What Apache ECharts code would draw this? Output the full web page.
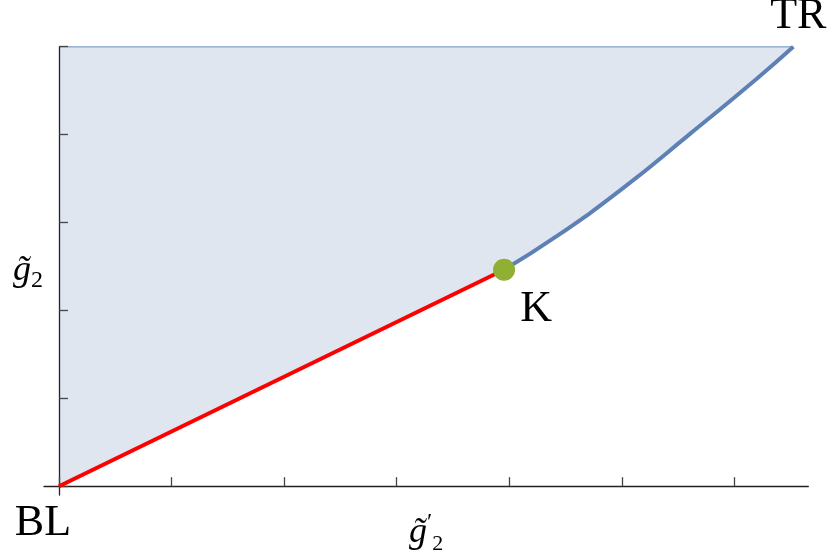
<!DOCTYPE html>
<html>
<head>
<meta charset="utf-8">
<script src="https://cdn.jsdelivr.net/npm/echarts@6/dist/echarts.min.js"></script>
<style>
  html, body { margin: 0; padding: 0; background: #fff; }
  #chart { width: 830px; height: 558px; }
</style>
</head>
<body>
<div id="chart"></div>
<script>
// red segment BL -> K
const redX = [0, 3.954];
const redY = [0, 2.463];
// blue curve K -> TR
const blueX = [3.954, 4.422, 5.014, 5.606, 6.199, 6.524];
const blueY = [2.463, 2.844, 3.394, 4.008, 4.636, 5.0];
const topY = 5;
const xTicks = [0, 1, 2, 3, 4, 5, 6];
const yTicks = [0, 1, 2, 3, 4, 5];
const pointNames = ['BL', 'K', 'TR'];

const zip = (xs, ys) => xs.map((x, i) => [x, ys[i]]);
const redData = zip(redX, redY);
const blueData = zip(blueX, blueY);
const last = blueData.length - 1;

const serif = '"Liberation Serif", "DejaVu Serif", serif';
const fill = '#dfe6f0';
const blue = '#5e81b5';

const chart = echarts.init(document.getElementById('chart'));

const labelBase = {
  show: true,
  fontFamily: serif,
  fontSize: 44,
  color: '#000',
  formatter: p => p.name
};

const points = [
  { name: pointNames[0], value: redData[0], symbolSize: 0,
    label: Object.assign({}, labelBase, { position: 'inside', offset: [-16, 37] }) },
  { name: pointNames[1], value: blueData[0], symbolSize: 22,
    label: Object.assign({}, labelBase, { position: 'inside', offset: [32, 40] }) },
  { name: pointNames[2], value: blueData[last], symbolSize: 0,
    label: Object.assign({}, labelBase, { position: 'inside', offset: [5, -30] }) }
];

const option = {
  animation: false,
  grid: { left: 44, right: 21.7, top: 46.7, bottom: 63, outerBoundsMode: 'none', containLabel: false },
  xAxis: {
    type: 'value',
    min: -0.133,
    max: 6.657,
    z: 3,
    name: '{i|g\u0303}{p|\u2032}{s|2}',
    nameLocation: 'middle',
    nameGap: 16,
    nameTextStyle: {
      rich: {
        i: { fontFamily: serif, fontStyle: 'italic', fontSize: 36, lineHeight: 44, color: '#000' },
        p: { fontFamily: serif, fontSize: 24, lineHeight: 44, verticalAlign: 'top', color: '#000' },
        s: { fontFamily: serif, fontSize: 22, lineHeight: 22, verticalAlign: 'bottom', color: '#000' }
      }
    },
    axisLine: { onZero: true, lineStyle: { color: '#222', width: 1.3 } },
    axisTick: { inside: true, length: 9, customValues: xTicks, lineStyle: { color: '#444', width: 1.3 } },
    axisLabel: { show: false },
    splitLine: { show: false }
  },
  yAxis: {
    type: 'value',
    min: -0.1,
    max: 5,
    z: 3,
    name: '{i|g\u0303}{s|2}',
    nameLocation: 'middle',
    nameRotate: 0,
    nameGap: 1,
    nameTextStyle: {
      align: 'right',
      verticalAlign: 'middle',
      rich: {
        i: { fontFamily: serif, fontStyle: 'italic', fontSize: 36, lineHeight: 44, color: '#000' },
        s: { fontFamily: serif, fontSize: 24, lineHeight: 24, verticalAlign: 'bottom', color: '#000' }
      }
    },
    axisLine: { onZero: true, lineStyle: { color: '#222', width: 1.3 } },
    axisTick: { inside: true, length: 9, customValues: yTicks, lineStyle: { color: '#444', width: 1.3 } },
    axisLabel: { show: false },
    splitLine: { show: false }
  },
  series: [
    { // shaded region left of the boundary, lower part
      type: 'line', data: redData, z: 1, symbol: 'none', silent: true,
      lineStyle: { width: 0 },
      areaStyle: { origin: 'end', color: fill, opacity: 1 }
    },
    { // shaded region, upper part
      type: 'line', data: blueData, z: 1, symbol: 'none', silent: true, smooth: 0.5,
      lineStyle: { width: 0 },
      areaStyle: { origin: 'end', color: fill, opacity: 1 }
    },
    { // top boundary of region
      type: 'line', data: [[0, topY], [blueX[last], topY]], z: 2, symbol: 'none',
      lineStyle: { color: 'rgba(94,129,181,0.6)', width: 1.5 }
    },
    {
      type: 'line', data: redData, z: 4, symbol: 'none',
      lineStyle: { color: '#ff0000', width: 4 }
    },
    {
      type: 'line', data: blueData, z: 4, symbol: 'none', smooth: 0.5,
      lineStyle: { color: blue, width: 4 }
    },
    {
      type: 'scatter', data: points, z: 5,
      itemStyle: { color: '#8fb032', opacity: 1 }
    }
  ]
};

chart.setOption(option);
</script>
</body>
</html>
